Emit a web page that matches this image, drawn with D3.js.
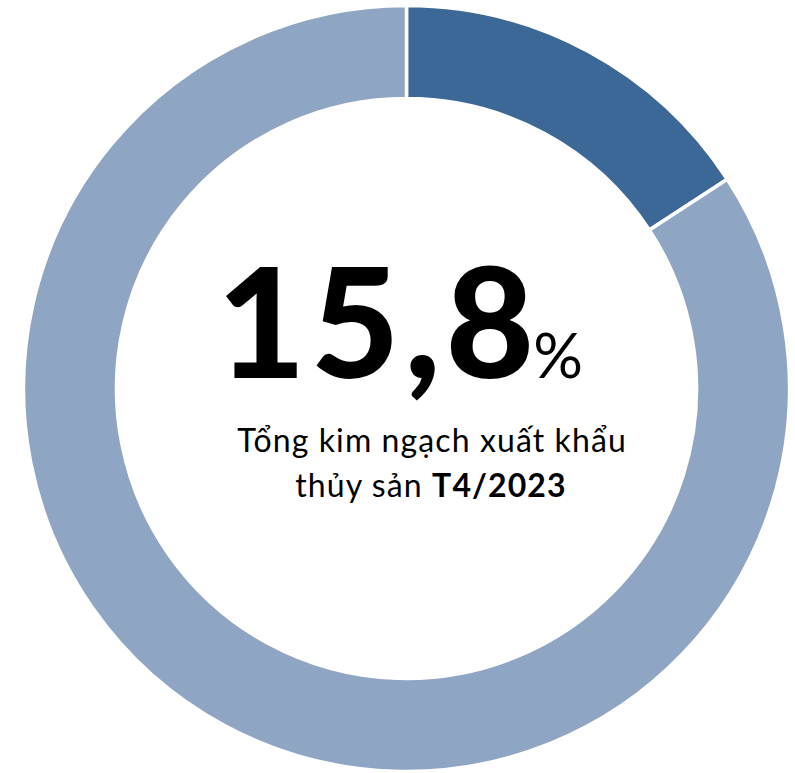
<!DOCTYPE html>
<html><head><meta charset="utf-8">
<script src="https://cdn.jsdelivr.net/npm/d3@7"></script>
<style>body{margin:0;background:#fff}svg{display:block}</style>
</head><body>
<svg id="c" width="795" height="773"></svg>
<script>
const categories = ["Tháng 4/2023", "Còn lại"];
const values = [15.8, 84.2];
const colors = ["#3b6897", "#8fa5c4"];
const bigLabel = "15,8";
const pctLabel = "%";
const line1 = "Tổng kim ngạch xuất khẩu";
const line2a = "thủy sản ";
const line2b = "T4/2023";

const svg = d3.select("#c");
const cx = 406.5, cy = 388.5, R = 383, r = 290;
const g = svg.append("g").attr("transform", `translate(${cx},${cy})`);
const pie = d3.pie().sort(null).value(d => d)(values);
const arc = d3.arc().innerRadius(r).outerRadius(R);
g.selectAll("path").data(pie).join("path")
  .attr("d", arc).attr("fill", (d,i) => colors[i])
  .attr("stroke", "#fff").attr("stroke-width", 3.5);

const font = "Lato, 'Open Sans', sans-serif";
const t = svg.append("text").attr("x", 400).attr("y", 378)
  .attr("text-anchor", "middle").attr("font-family", font).attr("fill", "#000");
t.append("tspan").attr("font-weight", 900).attr("font-size", 153).attr("letter-spacing", 5).text(bigLabel);
t.append("tspan").attr("font-weight", 400).attr("font-size", 62).attr("dx", -6).text(pctLabel);

svg.append("text").attr("x", 432).attr("y", 452).attr("text-anchor", "middle")
  .attr("font-family", font).attr("font-size", 32).attr("letter-spacing", 1.1).attr("fill", "#000").text(line1);
const t2 = svg.append("text").attr("x", 431).attr("y", 497).attr("text-anchor", "middle")
  .attr("font-family", font).attr("font-size", 32).attr("letter-spacing", 1.1).attr("fill", "#000");
t2.append("tspan").text(line2a);
t2.append("tspan").attr("font-weight", 700).text(line2b);
</script>
</body></html>
